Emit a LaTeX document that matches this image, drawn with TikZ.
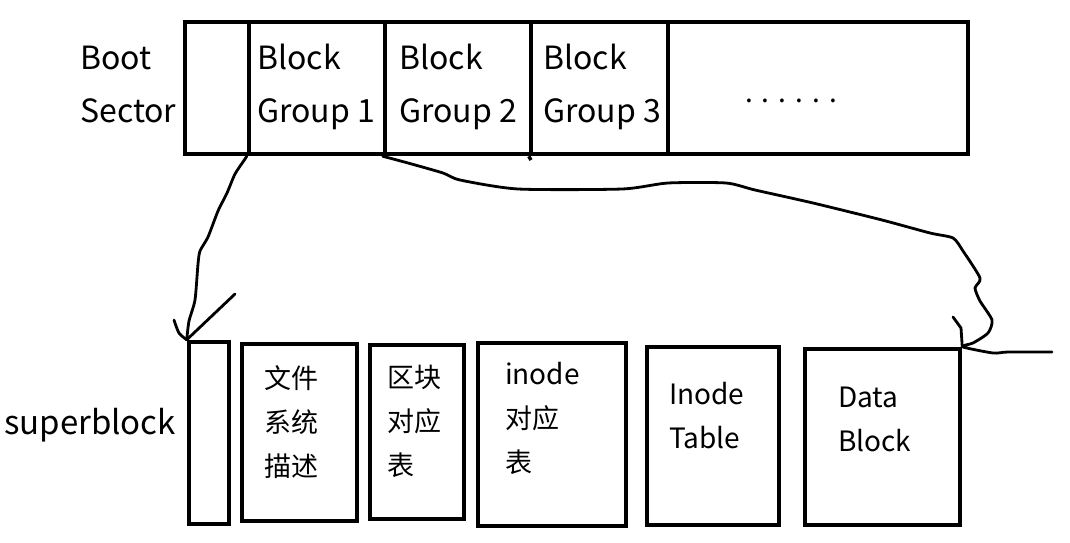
\documentclass[tikz,border=0pt]{standalone}
\usepackage{fontspec}
\setmainfont{Noto Sans CJK SC}
\newfontfamily\cjk{Noto Sans CJK SC}
\begin{document}
\begin{tikzpicture}[x=1pt,y=-1pt,
  box/.style={draw, line width=4.5pt, rectangle, inner sep=0pt},
  lbl/.style={inner sep=0pt, anchor=base west, font=\cjk\fontsize{28}{34}\selectfont},
  toplbl/.style={inner sep=0pt, anchor=base west, font=\cjk\fontsize{32}{38}\selectfont},
  clbl/.style={inner sep=0pt, anchor=west, font=\cjk\fontsize{27}{34}\selectfont},
  wire/.style={line width=2.8pt, line cap=round, line join=round}]
\useasboundingbox (0,0) rectangle (1070,543);
\fill[white] (0,0) rectangle (1070,543);
% top bar
\node[box, minimum width=64pt, minimum height=132pt] (c0) at (217,88) {};
\node[box, minimum width=136pt, minimum height=132pt] (c1) at (317,88) {};
\node[box, minimum width=146pt, minimum height=132pt] (c2) at (458,88) {};
\node[box, minimum width=137pt, minimum height=132pt] (c3) at (599.5,88) {};
\node[box, minimum width=300pt, minimum height=132pt] (c4) at (818,88) {};
\coordinate (tick) at (531,160);
\draw[line width=3.5pt] (c3.south west) -- (tick);
\node[toplbl] (boot) at (80,70) {Boot};
\node[toplbl] (sector) at (80,122) {Sector};
\node[toplbl] (g1a) at (257,70) {Block};
\node[toplbl] (g1b) at (257,122) {Group 1};
\node[toplbl] (g2a) at (399,70) {Block};
\node[toplbl] (g2b) at (399,122) {Group 2};
\node[toplbl] (g3a) at (543,70) {Block};
\node[toplbl] (g3b) at (543,122) {Group 3};
\node[lbl] (dots) at (745,102) {.\hspace{9pt}.\hspace{9pt}.\hspace{9pt}.\hspace{9pt}.\hspace{9pt}.};
% bottom boxes
\node[box, minimum width=40pt, minimum height=182pt] (sb) at (209,433) {};
\node[box, minimum width=115pt, minimum height=177pt] (b2) at (299.5,432.5) {};
\node[box, minimum width=94pt, minimum height=174pt] (b3) at (417,432) {};
\node[box, minimum width=148pt, minimum height=183pt] (b4) at (552,434.5) {};
\node[box, minimum width=132pt, minimum height=178pt] (b5) at (713,436) {};
\node[box, minimum width=155pt, minimum height=176pt] (b6) at (882.5,437) {};
\node[inner sep=0pt, anchor=base west, font=\cjk\fontsize{33}{38}\selectfont] (sbl) at (4,434) {superblock};
\node[clbl] (t21) at (264,378) {文件};
\node[clbl] (t22) at (264,422) {系统};
\node[clbl] (t23) at (264,466) {描述};
\node[clbl] (t31) at (387,377) {区块};
\node[clbl] (t32) at (387,421) {对应};
\node[clbl] (t33) at (387,465) {表};
\node[lbl] (t41) at (505,384) {inode};
\node[clbl] (t42) at (505,418) {对应};
\node[clbl] (t43) at (505,462) {表};
\node[lbl] (t51) at (669,404) {Inode};
\node[lbl] (t52) at (669,448) {Table};
\node[lbl] (t61) at (838,407) {Data};
\node[lbl] (t62) at (838,451) {Block};
% connectors
\draw[wire] plot[smooth, tension=0.4] coordinates {(c1.south west) (245,159) (235,174) (227,193) (218,211) (208,237) (200,251) (198,264) (195,300) (189,321) (sb.north west)};
\draw[wire] plot[smooth, tension=0.5] coordinates {(174,320) (179,333) (sb.north west)};
\draw[wire] (sb.north west) -- (235,294);
\coordinate (tail) at (1052,352);
\draw[wire] plot[smooth, tension=0.4] coordinates {(c2.south west) (408,163) (443,173) (460,180) (518,189) (622,189) (668,183) (726,183) (755,190) (813,203) (882,220) (930,233) (953,238) (963,251) (980,278) (975,288) (980,301) (992,320) (988,333) (973,343) (b6.north east) (993,353) (1008,352) (tail)};
\draw[wire] (953,317) -- (961,328) -- (b6.north east);
\end{tikzpicture}
\end{document}
